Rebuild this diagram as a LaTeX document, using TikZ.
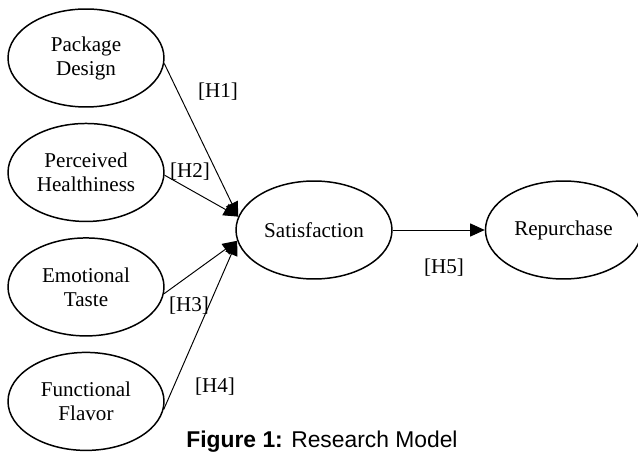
\documentclass[tikz,border=0pt]{standalone}
\usepackage{fontspec}
\setmainfont{Liberation Serif}
\newfontfamily\capfont{Liberation Sans}
\usetikzlibrary{arrows.meta,positioning,shapes.geometric}

\tikzset{
  construct/.style={ellipse,draw=black,line width=0.85pt,inner sep=0pt,
    minimum width=3.12cm,minimum height=1.96cm,align=center,
    font=\fontsize{12}{13.7}\selectfont},
  path/.style={draw=black,line width=0.55pt,-{Triangle[length=2.9mm,width=2.6mm]}},
  hyplabel/.style={font=\fontsize{12}{13.7}\selectfont,inner sep=0pt}
}

\begin{document}
\begin{tikzpicture}[x=0.02cm,y=-0.02cm,node distance=0.3cm and 1.84cm]
  \useasboundingbox (0,0) rectangle (638,452);

  \node[construct] (pkg) at (86,58) {Package\\Design};
  \node[construct,below=of pkg] (health) {Perceived\\Healthiness};
  \node[construct,below=of health] (taste) {Emotional\\Taste};
  \node[construct,below=of taste] (flavor) {Functional\\Flavor};

  \node[construct] (satis) at (314,230) {Satisfaction};
  \node[construct,right=of satis] (repur) {Repurchase};

  \draw[path] (pkg.-4) -- (satis.170);
  \draw[path] (health.-2) -- (satis.170);
  \draw[path] (taste.-5) -- (satis.188);
  \draw[path] (flavor.-6) -- (satis.188);
  \draw[path] (satis) -- (repur);

  \node[hyplabel] (h1) at (218,92) {[H1]};
  \node[hyplabel] (h2) at (190,172) {[H2]};
  \node[hyplabel] (h3) at (189,306) {[H3]};
  \node[hyplabel] (h4) at (215,387) {[H4]};
  \node[hyplabel] (h5) at (444,268) {[H5]};

  \node[anchor=base,inner sep=0pt,font=\capfont\fontsize{13}{15}\selectfont]
    (caption) at (322,447) {\textbf{Figure 1:} Research Model};
\end{tikzpicture}
\end{document}
